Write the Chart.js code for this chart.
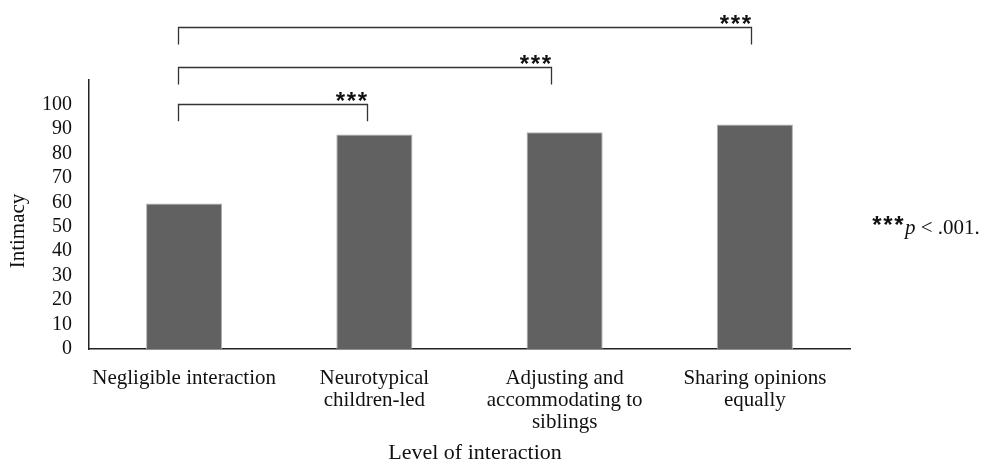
<!DOCTYPE html>
<html>
<head>
<meta charset="utf-8">
<script src="https://cdn.jsdelivr.net/npm/chart.js"></script>
<style>
  html, body { margin: 0; padding: 0; background: #fff; }
</style>
</head>
<body>
<canvas id="myChart" width="984" height="465"></canvas>
<script>
// data
var categories = [
  ['Negligible interaction'],
  ['Neurotypical', 'children-led'],
  ['Adjusting and', 'accommodating to', 'siblings'],
  ['Sharing opinions', 'equally']
];
var intimacy = [59.5, 87.7, 88.6, 91.8];
var yTickLabels = [0, 10, 20, 30, 40, 50, 60, 70, 80, 90, 100];

// significance brackets: ends in category units, level and foot in y units
var bracketFrom = [-0.03, -0.03, -0.03];
var bracketTo = [0.96, 1.93, 2.98];
var bracketTop = [100, 115.5, 131.8];
var bracketFoot = [93.1, 108.2, 124.5];
var bracketLabel = ['***', '***', '***'];

var serif = '"Liberation Serif", "Times New Roman", serif';

function drawStars(ctx, text, right, bottom) {
  // stars drawn one by one, right aligned, glyph bottom at "bottom"
  ctx.font = 'bold 24px "Liberation Sans", Arial, sans-serif';
  ctx.textAlign = 'center';
  ctx.textBaseline = 'alphabetic';
  for (var k = 0; k < text.length; k++) {
    var cx = right - 5 - (text.length - 1 - k) * 11;
    ctx.fillText(text[k], cx, bottom + 6);
  }
}

var bracketPlugin = {
  id: 'brackets',
  afterDraw: function (chart) {
    var ctx = chart.ctx;
    var x = chart.scales.x, y = chart.scales.y;
    ctx.save();
    ctx.strokeStyle = '#333';
    ctx.lineWidth = 1.3;
    ctx.fillStyle = '#111';
    for (var i = 0; i < bracketFrom.length; i++) {
      var x1 = Math.round(x.getPixelForValue(bracketFrom[i])) + 0.5;
      var x2 = Math.round(x.getPixelForValue(bracketTo[i])) + 0.5;
      var yt = Math.round(y.getPixelForValue(bracketTop[i])) + 0.5;
      var yf = y.getPixelForValue(bracketFoot[i]);
      ctx.beginPath();
      ctx.moveTo(x1, yf);
      ctx.lineTo(x1, yt);
      ctx.lineTo(x2, yt);
      ctx.lineTo(x2, yf);
      ctx.stroke();
      drawStars(ctx, bracketLabel[i], x2, yt - 2);
    }

    // axis titles
    ctx.textAlign = 'center';
    ctx.textBaseline = 'middle';
    ctx.font = '22px ' + serif;
    ctx.fillText('Level of interaction', 475, 453);
    ctx.save();
    ctx.translate(18, 231);
    ctx.rotate(-Math.PI / 2);
    ctx.font = '21px ' + serif;
    ctx.fillText('Intimacy', 0, 0);
    ctx.restore();

    // note on the right
    drawStars(ctx, '***', 904, 227);
    ctx.textAlign = 'left';
    ctx.textBaseline = 'middle';
    var nx = 905, ny = 228;
    ctx.font = 'italic 21px ' + serif;
    ctx.fillText('p', nx, ny);
    nx += ctx.measureText('p').width;
    ctx.font = '21px ' + serif;
    ctx.fillText(' < .001.', nx, ny);
    ctx.restore();
  }
};

var data = {
  labels: categories,
  datasets: [{
    label: 'Intimacy',
    data: intimacy,
    backgroundColor: '#616161',
    borderColor: '#b0b0b0',
    borderWidth: 1,
    barPercentage: 0.4,
    categoryPercentage: 1
  }]
};

var config = {
  type: 'bar',
  data: data,
  plugins: [bracketPlugin],
  options: {
    responsive: false,
    animation: false,
    layout: { padding: { top: 80, right: 134, left: 0, bottom: 0 } },
    plugins: {
      legend: { display: false },
      tooltip: { enabled: false },
      title: { display: false }
    },
    scales: {
      x: {
        grid: { display: false },
        border: { color: '#222', width: 1.5 },
        ticks: {
          color: '#111',
          font: { family: serif, size: 21, lineHeight: 1.05 },
          maxRotation: 0,
          autoSkip: false,
          padding: 10
        },
        afterFit: function (scale) { scale.height = 116; }
      },
      y: {
        min: 0,
        max: 110,
        grid: { display: false },
        border: { color: '#222', width: 1.5 },
        ticks: {
          stepSize: 10,
          autoSkip: false,
          color: '#111',
          font: { family: serif, size: 20 },
          padding: 9,
          callback: function (v) { return yTickLabels.indexOf(v) >= 0 ? String(v) : ''; }
        },
        afterFit: function (scale) { scale.width = 89; }
      }
    }
  }
};

var myChart = new Chart(document.getElementById('myChart'), config);
</script>
</body>
</html>
